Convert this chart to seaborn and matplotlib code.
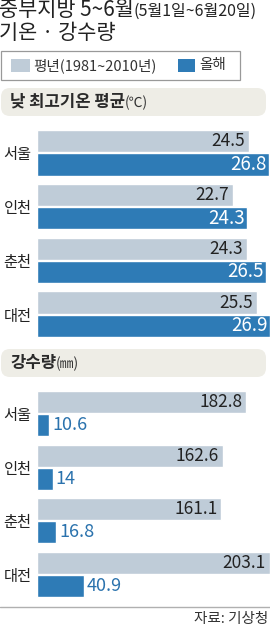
import matplotlib
matplotlib.use("Agg")
import matplotlib.pyplot as plt
from matplotlib.patches import FancyBboxPatch, Rectangle
import seaborn as sns
import pandas as pd

# ---- data ----
cities = ["서울", "인천", "춘천", "대전"]
series = ["평년(1981~2010년)", "올해"]
temp_normal = [24.5, 22.7, 24.3, 25.5]
temp_this = [26.8, 24.3, 26.5, 26.9]
rain_normal = [182.8, 162.6, 161.1, 203.1]
rain_this = [10.6, 14, 16.8, 40.9]

title1 = "중부지방 5~6월"
title1b = "(5월1일~6월20일)"
title2 = "기온 · 강수량"
head_temp = "낮 최고기온 평균"
head_temp_unit = "(℃)"
head_rain = "강수량"
head_rain_unit = "(㎜)"
source = "자료: 기상청"

LIGHT = "#bfccd8"
DARK = "#2e7bb6"
BOXC = "#eeede6"

sns.set_theme(style="white")
plt.rcParams["font.family"] = ["Noto Sans CJK KR", "DejaVu Sans"]

W, H = 270, 628
fig = plt.figure(figsize=(W / 100, H / 100), dpi=100)
fig.patch.set_facecolor("white")

# background axes in pixel coordinates
bg = fig.add_axes([0, 0, 1, 1], zorder=0)
bg.set_xlim(0, W)
bg.set_ylim(H, 0)
bg.axis("off")

renderer = fig.canvas.get_renderer()


def text_after(t, s, **kw):
    bb = t.get_window_extent(renderer=renderer)
    return bg.text(bb.x1, kw.pop("y"), s, **kw)


# titles
t = bg.text(-1, 10, title1, fontsize=15, va="center", ha="left", color="#222")
text_after(t, title1b, y=11.5, fontsize=11.5, va="center", ha="left", color="#222")
bg.text(-1, 33, title2, fontsize=15, va="center", ha="left", color="#222")

# legend box
bg.add_patch(Rectangle((0.5, 51), 239.5, 29, facecolor="white", edgecolor="#999999", lw=0.9))
bg.add_patch(Rectangle((11, 59), 19, 13, facecolor=LIGHT, edgecolor="none"))
bg.text(33, 65.5, series[0], fontsize=10.5, va="center", ha="left", color="#333")
bg.add_patch(Rectangle((178, 59), 17, 13, facecolor=DARK, edgecolor="none"))
bg.text(199, 65.5, series[1], fontsize=10.5, va="center", ha="left", color="#333")

# section headers
for (y0, main, unit) in [(88, head_temp, head_temp_unit), (349, head_rain, head_rain_unit)]:
    bg.add_patch(FancyBboxPatch((1, y0), 265, 28,
                                boxstyle="round,pad=0,rounding_size=9",
                                facecolor=BOXC, edgecolor="none"))
    tt = bg.text(10, y0 + 14, main, fontsize=12, fontweight="bold",
                 va="center", ha="left", color="#2a2a2a")
    text_after(tt, unit, y=y0 + 15, fontsize=10, va="center", ha="left", color="#333")

# footer
bg.plot([0, W], [607, 607], color="#b0b0b0", lw=1)
bg.text(268, 619, source, fontsize=10.5, va="center", ha="right", color="#333")


def fmt(v):
    return f"{v:g}" if float(v).is_integer() else f"{v:.1f}"


def panel(top_px, bot_px, normal, this, xmax, dark_inside):
    ax = fig.add_axes([37 / W, 1 - bot_px / H, (W - 37) / W, (bot_px - top_px) / H], zorder=2)
    df = pd.DataFrame({
        "city": cities * 2,
        "series": [series[0]] * len(cities) + [series[1]] * len(cities),
        "value": list(normal) + list(this),
    })
    sns.barplot(data=df, y="city", x="value", hue="series", orient="h",
                palette=[LIGHT, DARK], width=0.86, gap=0.04, saturation=1,
                legend=False, ax=ax, order=cities, hue_order=series)
    ax.set_xlim(0, xmax)
    ax.set_ylim(len(cities) - 0.5, -0.5)
    ax.patch.set_alpha(0)
    for s in ax.spines.values():
        s.set_visible(False)
    ax.set_xticks([])
    ax.set_xlabel("")
    ax.set_ylabel("")
    ax.tick_params(axis="y", length=0, pad=4, labelsize=11, labelcolor="#222")
    c_light, c_dark = ax.containers[0], ax.containers[1]
    for p, v in zip(c_light.patches, normal):
        ax.annotate(fmt(v), xy=(p.get_width(), p.get_y() + p.get_height() / 2),
                    xytext=(-3, 0), textcoords="offset points", ha="right", va="center",
                    fontsize=12.5, color="#222")
    for p, v in zip(c_dark.patches, this):
        if dark_inside:
            ax.annotate(fmt(v), xy=(p.get_width(), p.get_y() + p.get_height() / 2),
                        xytext=(-1.5, 0), textcoords="offset points", ha="right", va="center",
                        fontsize=13.5, color="white", fontweight="medium")
        else:
            ax.annotate(fmt(v), xy=(p.get_width(), p.get_y() + p.get_height() / 2),
                        xytext=(2, 0), textcoords="offset points", ha="left", va="center",
                        fontsize=13, color="#2a72ad")
    return ax


panel(126, 341, temp_normal, temp_this, 26.95, True)
panel(387, 601, rain_normal, rain_this, 203.5, False)

fig.savefig("out.png", dpi=100, facecolor="white")
